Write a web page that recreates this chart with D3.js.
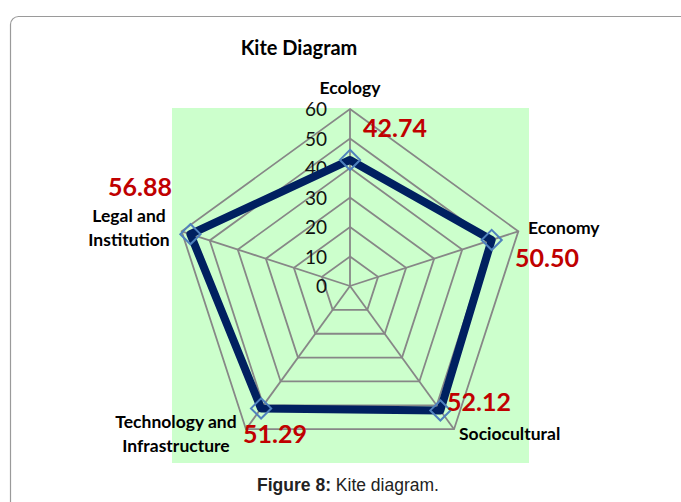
<!DOCTYPE html>
<html>
<head>
<meta charset="utf-8">
<script src="https://cdn.jsdelivr.net/npm/d3@7"></script>
<style>
  body { margin: 0; background: #fff; }
  svg { display: block; }
</style>
</head>
<body>
<script>
// data
var categories = ["Ecology", "Economy", "Sociocultural", "Technology and Infrastructure", "Legal and Institution"];
var values = [42.74, 50.50, 52.12, 51.29, 56.88];
var valueLabels = ["42.74", "50.50", "52.12", "51.29", "56.88"];
var ticks = [0, 10, 20, 30, 40, 50, 60];

var width = 681, height = 502;
var cx = 350, cy = 286;

var svg = d3.select("body").append("svg")
    .attr("width", width)
    .attr("height", height);

// page frame
svg.append("rect")
    .attr("x", 10.5).attr("y", 16.5)
    .attr("width", 720).attr("height", 540)
    .attr("rx", 8)
    .attr("fill", "none")
    .attr("stroke", "#9a9a9a")
    .attr("stroke-width", 1.2);

// plot area
svg.append("rect")
    .attr("x", 172).attr("y", 108)
    .attr("width", 357).attr("height", 355)
    .attr("fill", "#ccffcc");

svg.append("text")
    .attr("x", 299).attr("y", 55)
    .attr("text-anchor", "middle")
    .style("font-family", "Lato, 'Open Sans', sans-serif")
    .style("font-weight", "bold")
    .style("font-size", "20px")
    .text("Kite Diagram");

var r = d3.scaleLinear().domain([0, 60]).range([0, 177]);
var angle = d3.scaleLinear().domain([0, categories.length]).range([-Math.PI / 2, 1.5 * Math.PI]);

function pt(i, v) {
    var a = angle(i);
    return [cx + r(v) * Math.cos(a), cy + r(v) * Math.sin(a)];
}

var g = svg.append("g");

// grid rings
ticks.filter(function(t) { return t > 0; }).forEach(function(t) {
    g.append("path")
        .attr("d", d3.line()(categories.map(function(c, i) { return pt(i, t); })) + "Z")
        .attr("fill", "none")
        .attr("stroke", "#878787")
        .attr("stroke-width", 1.8);
});

// spokes
categories.forEach(function(c, i) {
    var p = pt(i, 60);
    g.append("line")
        .attr("x1", cx).attr("y1", cy)
        .attr("x2", p[0]).attr("y2", p[1])
        .attr("stroke", "#878787")
        .attr("stroke-width", 1.8);
});

// tick labels
g.selectAll(".tick")
    .data(ticks)
    .enter().append("text")
    .attr("class", "tick")
    .attr("x", cx - 23)
    .attr("y", function(d) { return cy - r(d) + 7; })
    .attr("text-anchor", "end")
    .style("font-family", "Lato, 'Open Sans', sans-serif")
    .style("font-size", "19px")
    .attr("fill", "#111")
    .text(function(d) { return d; });

// series line
var pts = values.map(function(v, i) { return pt(i, v); });
g.append("path")
    .attr("d", d3.line()(pts) + "Z")
    .attr("fill", "none")
    .attr("stroke", "#002060")
    .attr("stroke-width", 8)
    .attr("stroke-linejoin", "round");

// diamond markers
g.selectAll(".mark")
    .data(pts)
    .enter().append("path")
    .attr("class", "mark")
    .attr("d", d3.symbol().type(d3.symbolDiamond2).size(260))
    .attr("transform", function(d) { return "translate(" + d[0] + "," + d[1] + ")"; })
    .attr("fill", "none")
    .attr("stroke", "#4f81bd")
    .attr("stroke-width", 2);

// category labels
var catPos = [
    {x: 350, y: 94, anchor: "middle", lines: ["Ecology"]},
    {x: 528, y: 234, anchor: "start", lines: ["Economy"]},
    {x: 459, y: 440, anchor: "start", lines: ["Sociocultural"]},
    {x: 176, y: 428, anchor: "middle", lines: ["Technology and", "Infrastructure"]},
    {x: 129, y: 222, anchor: "middle", lines: ["Legal and", "Institution"]}
];
categories.forEach(function(c, i) {
    var p = catPos[i];
    var t = svg.append("text")
        .attr("x", p.x).attr("y", p.y)
        .attr("text-anchor", p.anchor)
        .style("font-family", "Lato, 'Open Sans', sans-serif")
        .style("font-weight", "bold")
        .style("font-size", "17.5px")
        .attr("fill", "#000");
    p.lines.forEach(function(l, j) {
        t.append("tspan").attr("x", p.x).attr("dy", j === 0 ? 0 : 23.5).text(l);
    });
});

// value labels
var valPos = [[363, 137], [515, 267], [447, 411], [243, 443], [108, 196]];
valueLabels.forEach(function(v, i) {
    svg.append("text")
        .attr("x", valPos[i][0]).attr("y", valPos[i][1])
        .style("font-family", "Lato, 'Open Sans', sans-serif")
        .style("font-weight", "bold")
        .style("font-size", "25px")
        .attr("fill", "#c00000")
        .text(v);
});

// caption
var cap = svg.append("text")
    .attr("x", 348).attr("y", 491)
    .attr("text-anchor", "middle")
    .style("font-family", "'Liberation Sans', Arial, sans-serif")
    .style("font-size", "17.5px")
    .attr("fill", "#222");
cap.append("tspan").style("font-weight", "bold").text("Figure 8:");
cap.append("tspan").text(" Kite diagram.");
</script>
</body>
</html>
